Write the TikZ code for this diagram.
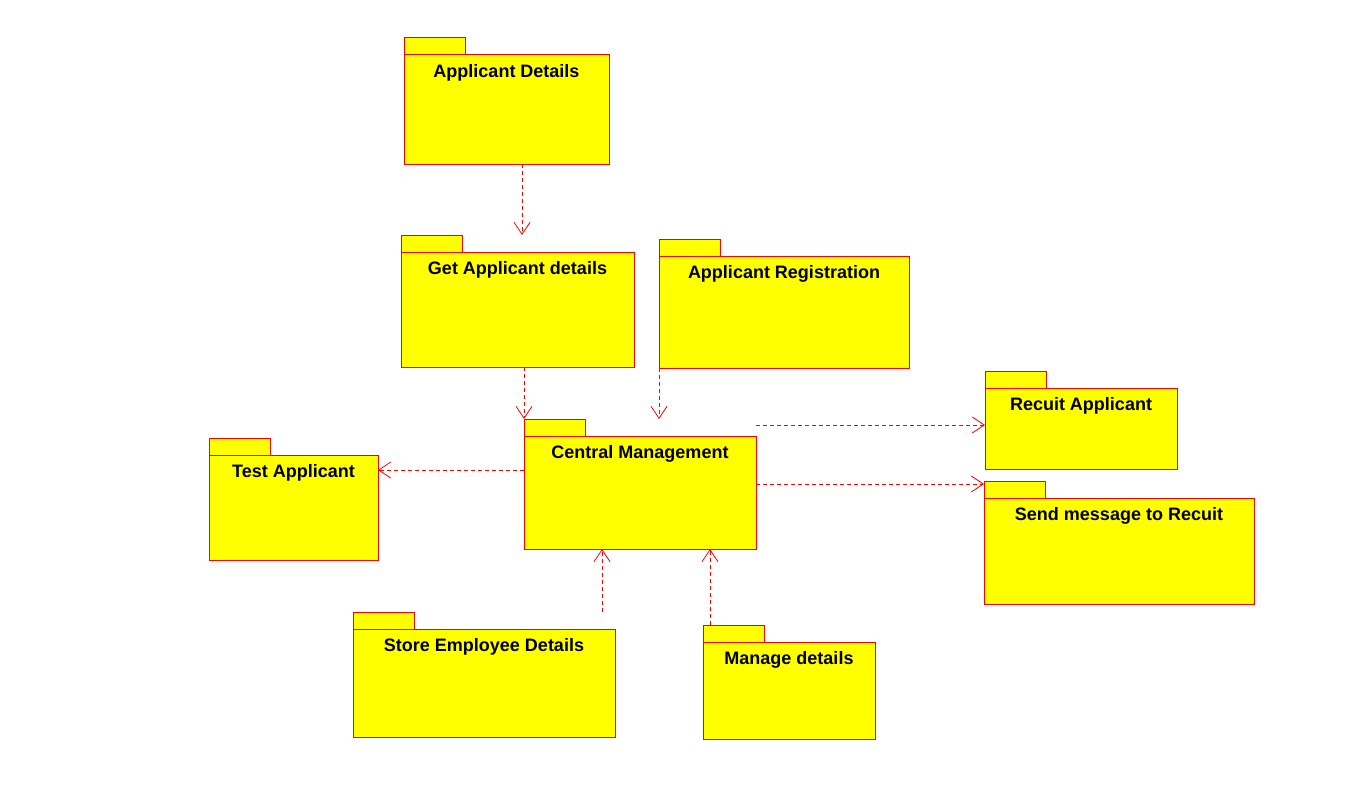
\documentclass[tikz,border=0pt]{standalone}
\usepackage{fontspec}
\setmainfont{Liberation Sans}
\usetikzlibrary{arrows.meta}
\definecolor{pkgred}{RGB}{255,0,0}
\definecolor{pkgyellow}{RGB}{255,255,0}
\tikzset{
  pkgbody/.style={draw=pkgred, fill=pkgyellow, line width=1pt, anchor=north west, inner sep=0pt, outer sep=0pt},
  pkgtab/.style={draw=pkgred, fill=pkgyellow, line width=1pt, anchor=south west, inner sep=0pt, outer sep=0pt, minimum width=61pt, minimum height=17pt},
  pkgtitle/.style={anchor=base, inner sep=0pt, font=\bfseries\fontsize{18}{20}\selectfont},
  dep/.style={draw=pkgred, line width=0.9pt, dash pattern=on 4pt off 3pt, -{Straight Barb[length=12pt,width=16pt,line width=0.8pt]}},
}
\newcommand\umlpkg[6]{%
  \node[pkgbody, minimum width=#4pt, minimum height=#5pt] (#1) at (#2,#3) {};
  \node[pkgtab] (#1-tab) at (#1.north west) {};
  \node[pkgtitle] (#1-title) at ([yshift=-22.5pt]#1.north) {#6};
}
\begin{document}
\begin{tikzpicture}[x=1pt,y=-1pt]
\useasboundingbox (0,0) rectangle (1368,792);
\umlpkg{ad}{404}{55}{205}{109}{Applicant Details}
\umlpkg{gad}{401}{252}{233}{115}{Get Applicant details}
\umlpkg{ar}{659}{256}{250}{112}{Applicant Registration}
\umlpkg{cm}{524}{436}{232}{113}{Central Management}
\umlpkg{ta}{209}{455}{169}{105}{Test Applicant}
\umlpkg{ra}{985}{388}{192}{81}{Recuit Applicant}
\umlpkg{sm}{984}{498}{270}{106}{Send message to Recuit}
\umlpkg{se}{353}{629}{262}{108}{Store Employee Details}
\umlpkg{md}{703}{642}{172}{97}{Manage details}
% connectors
\coordinate (a1) at ([xshift=15.5pt]ad.south);
\draw[dep] (a1) -- (a1 |- gad-tab.north);
\coordinate (g1) at ([xshift=6.5pt]gad.south);
\draw[dep] (g1) -- (g1 |- cm-tab.north);
\coordinate (r1) at (ar.south west);
\draw[dep] (r1) -- (r1 |- cm-tab.north);
\coordinate (c1) at ([yshift=22.5pt]cm.west);
\draw[dep] (c1) -- (c1 -| ta.east);
\coordinate (c2) at ([yshift=11pt]cm.north east);
\draw[dep] (c2) -- (c2 -| ra.west);
\coordinate (c3) at ([yshift=8.5pt]cm.east);
\draw[dep] (c3) -- (c3 -| sm-tab.west);
\coordinate (s1) at ([xshift=-13pt,yshift=17pt]se.north east);
\draw[dep] (s1) -- (s1 |- cm.south);
\coordinate (m1) at ([xshift=7pt]md-tab.north west);
\draw[dep] (m1) -- (m1 |- cm.south);
\end{tikzpicture}
\end{document}
